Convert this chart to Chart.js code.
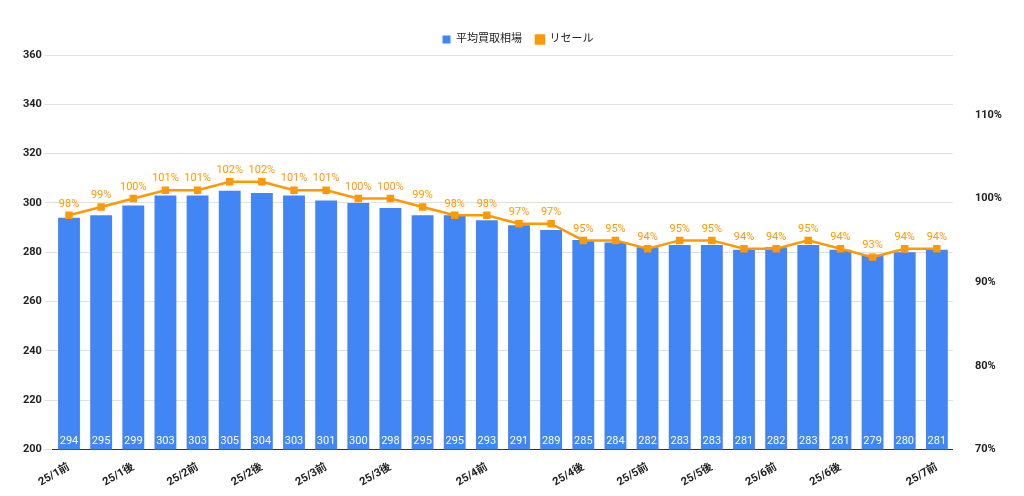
<!DOCTYPE html>
<html>
<head>
<meta charset="utf-8">
<script src="https://cdn.jsdelivr.net/npm/chart.js@4"></script>
<style>
  html, body { margin: 0; padding: 0; background: #fff; }
  #wrap { width: 1024px; height: 496px; }
</style>
</head>
<body>
<div id="wrap"><canvas id="chart"></canvas></div>
<script>
const categories = ['25/1前', '', '25/1後', '', '25/2前', '', '25/2後', '', '25/3前', '', '25/3後', '', '', '25/4前',
  '', '', '25/4後', '', '25/5前', '', '25/5後', '', '25/6前', '', '25/6後', '', '', '25/7前'];
const buyPrice = [294, 295, 299, 303, 303, 305, 304, 303, 301, 300, 298, 295, 295, 293,
  291, 289, 285, 284, 282, 283, 283, 281, 282, 283, 281, 279, 280, 281];
const resale = [98, 99, 100, 101, 101, 102, 102, 101, 101, 100, 100, 99, 98, 98,
  97, 97, 95, 95, 94, 95, 95, 94, 94, 95, 94, 93, 94, 94];
const leftTicks = [200, 220, 240, 260, 280, 300, 320, 340, 360];
const rightTicks = [70, 80, 90, 100, 110];

const BLUE = '#4285F4';
const ORANGE = '#FF9900';
const FONT = 'Roboto, "Noto Sans CJK JP", sans-serif';

// value labels: white at bar bottom, orange above line points
const valueLabels = {
    id: 'valueLabels',
    afterDraw(chart) {
        const ctx = chart.ctx;
        const bottom = chart.chartArea.bottom;
        ctx.save();
        ctx.font = '11px ' + FONT;
        ctx.textAlign = 'center';
        ctx.textBaseline = 'bottom';
        chart.getDatasetMeta(0).data.forEach((bar, i) => {
            ctx.fillStyle = '#ffffff';
            ctx.fillText(String(buyPrice[i]), bar.x, bottom - 3);
        });
        chart.getDatasetMeta(1).data.forEach((pt, i) => {
            ctx.fillStyle = ORANGE;
            ctx.fillText(resale[i] + '%', pt.x, pt.y - 6);
        });
        ctx.restore();
    },
};

new Chart(document.getElementById('chart'), {
    data: {
        labels: categories,
        datasets: [
            {
                type: 'bar',
                label: '平均買取相場',
                data: buyPrice,
                backgroundColor: BLUE,
                barPercentage: 0.68,
                categoryPercentage: 1,
                yAxisID: 'y',
                order: 2,
            },
            {
                type: 'line',
                label: 'リセール',
                data: resale,
                borderColor: ORANGE,
                backgroundColor: ORANGE,
                borderWidth: 2.5,
                pointStyle: 'rect',
                pointRadius: 3.5,
                tension: 0,
                yAxisID: 'y1',
                order: 1,
            },
        ],
    },
    options: {
        responsive: true,
        maintainAspectRatio: false,
        animation: false,
        layout: { padding: { left: 20, right: 8, top: 20, bottom: 4 } },
        plugins: {
            legend: {
                position: 'top',
                labels: {
                    usePointStyle: true,
                    pointStyle: 'rect',
                    boxWidth: 8,
                    boxHeight: 8,
                    color: '#222',
                    font: { family: FONT, size: 11 },
                    sort: (a, b) => a.datasetIndex - b.datasetIndex,
                    padding: 14,
                },
            },
            tooltip: { enabled: false },
        },
        scales: {
            x: {
                grid: { display: false },
                border: { color: '#333' },
                ticks: {
                    autoSkip: false,
                    maxRotation: 30,
                    minRotation: 30,
                    color: '#222',
                    font: { family: FONT, size: 11, weight: 'bold' },
                },
            },
            y: {
                position: 'left',
                min: 200,
                max: 360,
                afterBuildTicks: axis => { axis.ticks = leftTicks.map(v => ({ value: v })); },
                grid: { color: '#e0e0e0' },
                border: { display: false },
                ticks: { color: '#222', font: { family: FONT, size: 11, weight: 'bold' } },
            },
            y1: {
                position: 'right',
                min: 70,
                max: 117.16,
                afterBuildTicks: axis => { axis.ticks = rightTicks.map(v => ({ value: v })); },
                grid: { display: false },
                border: { display: false },
                ticks: {
                    color: '#222',
                    padding: 14,
                    font: { family: FONT, size: 11, weight: 'bold' },
                    callback: v => v + '%',
                },
            },
        },
    },
    plugins: [valueLabels],
});
</script>
</body>
</html>
